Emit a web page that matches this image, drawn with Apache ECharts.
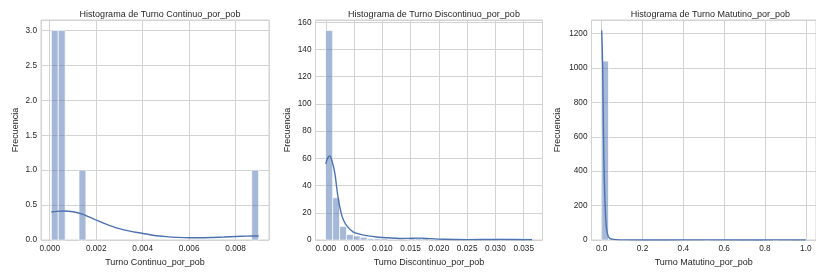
<!DOCTYPE html>
<html>
<head>
<meta charset="utf-8">
<script src="https://cdn.jsdelivr.net/npm/echarts@6/dist/echarts.min.js"></script>
<style>
html,body{margin:0;padding:0;background:#fff;}
#c{width:816px;height:275px;}
</style>
</head>
<body>
<div id="c"></div>
<script>
// ---- Data ----
const titles = ['Histograma de Turno Continuo_por_pob', 'Histograma de Turno Discontinuo_por_pob', 'Histograma de Turno Matutino_por_pob'];
const xNames = ['Turno Continuo_por_pob', 'Turno Discontinuo_por_pob', 'Turno Matutino_por_pob'];
const yName = 'Frecuencia';

// Panel 1: Turno Continuo_por_pob (30 bins)
const contRange = [0.00007, 0.00899];
const contCounts = [3,3,0,0,1,0,0,0,0,0, 0,0,0,0,0,0,0,0,0,0, 0,0,0,0,0,0,0,0,0,1];
const contKde = [[0.00007,0.40],[0.0003,0.41],[0.0006,0.415],[0.001,0.405],[0.0014,0.37],[0.0019,0.30],[0.0024,0.23],[0.0029,0.17],[0.0034,0.13],[0.0039,0.10],[0.0045,0.065],[0.005,0.048],[0.0055,0.037],[0.006,0.032],[0.0065,0.032],[0.007,0.036],[0.0075,0.042],[0.008,0.05],[0.0085,0.055],[0.00899,0.058]];

// Panel 2: Turno Discontinuo_por_pob (30 bins)
const discRange = [0.0, 0.0365];
const discCounts = [154,31,10,4,3,2,1,1,1,0, 0,0,1,1,1,0,0,0,0,0, 0,0,0,0,0,1,0,0,0,1];
const discKde = [[0,56],[0.0003,60],[0.0007,61.7],[0.0011,58],[0.0016,49],[0.0021,33],[0.0027,20],[0.0032,14],[0.0038,10],[0.0048,6],[0.006,4.3],[0.0075,3],[0.009,2.2],[0.011,1.6],[0.013,1.1],[0.0145,1.2],[0.0165,1.4],[0.0185,1.0],[0.021,0.5],[0.025,0.3],[0.03,0.35],[0.0335,0.4],[0.0365,0.2]];

// Panel 3: Turno Matutino_por_pob (30 bins)
const matRange = [0.0, 1.0];
const matCounts = [1040,8,2,1,0,0,0,0,0,0, 0,0,0,0,0,1,0,0,0,0, 0,0,0,0,0,1,0,0,0,1];
const matKde = [[0,1218],[0.0034,1084],[0.007,780],[0.01,503],[0.015,260],[0.02,116],[0.0275,39],[0.039,10],[0.068,2],[0.15,0.8],[0.3,0.3],[0.5,0.6],[0.7,0.3],[0.85,0.5],[1.0,0.3]];

// axis tick settings
const yIntervals = [0.5, 20, 200];
const xDecimals = [3, 3, 1];
const yDecimals = [1, 0, 0];
const xSplit = [5, 8, 5];

// ---- Build ----
const ranges = [contRange, discRange, matRange];
const countsAll = [contCounts, discCounts, matCounts];
const kdes = [contKde, discKde, matKde];

const BAR = 'rgba(76,114,176,0.5)';
const LINE = '#4c72b0';
const GRID = '#d3d3d3';
const TXT = '#262626';
const FONT = 'Liberation Sans, Arial, sans-serif';

const gridsPos = [
  {left: 41, top: 20, width: 228, height: 220},
  {left: 315.5, top: 20, width: 227, height: 220},
  {left: 591.5, top: 20, width: 228, height: 220}
];
const yNameGaps = [21, 23.5, 29];

function binData(range, counts){
  const w = (range[1]-range[0])/counts.length;
  const out = [];
  counts.forEach((c,i)=>{ if(c>0) out.push([range[0]+i*w, range[0]+(i+1)*w, c]); });
  return out;
}

function histItem(params, api){
  const p0 = api.coord([api.value(0), api.value(2)]);
  const p1 = api.coord([api.value(1), 0]);
  return {type:'rect', shape:{x:p0[0], y:p0[1], width:p1[0]-p0[0], height:p1[1]-p0[1]},
    style:{fill:BAR, stroke:'#ffffff', lineWidth:0.7}};
}

const grids = [], xAxes = [], yAxes = [], series = [], title = [];
for(let k=0;k<3;k++){
  const r = ranges[k];
  const span = r[1]-r[0];
  const kmax = Math.max(...kdes[k].map(p=>p[1]), ...countsAll[k]);
  grids.push(Object.assign({show:true, borderColor:GRID, borderWidth:1, containLabel:false}, gridsPos[k]));
  title.push({text:titles[k], left: gridsPos[k].left + gridsPos[k].width/2, top: 5, textAlign:'center',
    textStyle:{fontFamily:FONT, fontSize:9, fontWeight:'normal', color:TXT}});
  xAxes.push({type:'value', gridIndex:k, min: r[0]-0.05*span, max: r[1]+0.05*span, splitNumber: xSplit[k],
    name: xNames[k], nameLocation:'middle', nameGap: 18,
    nameTextStyle:{fontFamily:FONT, fontSize:9, color:TXT},
    axisLine:{show:false}, axisTick:{show:false},
    axisLabel:{showMinLabel:false, showMaxLabel:false, margin:5, fontFamily:FONT, fontSize:8.25, color:TXT,
      formatter: v => v.toFixed(xDecimals[k])},
    splitLine:{show:true, lineStyle:{color:GRID, width:1}}});
  yAxes.push({type:'value', gridIndex:k, min:0, max: kmax*1.05, interval: yIntervals[k],
    name: yName, nameLocation:'middle', nameRotate:90, nameGap: yNameGaps[k],
    nameTextStyle:{fontFamily:FONT, fontSize:9, color:TXT},
    axisLine:{show:false}, axisTick:{show:false},
    axisLabel:{showMaxLabel:false, margin:4, fontFamily:FONT, fontSize:8.25, color:TXT,
      formatter: v => v.toFixed(yDecimals[k])},
    splitLine:{show:true, lineStyle:{color:GRID, width:1}}});
  series.push({type:'custom', xAxisIndex:k, yAxisIndex:k, renderItem: histItem, data: binData(r, countsAll[k]), z:2});
  series.push({type:'line', xAxisIndex:k, yAxisIndex:k, data: kdes[k], smooth:0.3,
    symbol:'none', lineStyle:{color:LINE, width:1.4}, z:3});
}

const chart = echarts.init(document.getElementById('c'), null, {renderer:'canvas'});
chart.setOption({backgroundColor:'#ffffff', animation:false, title, grid:grids, xAxis:xAxes, yAxis:yAxes, series});
</script>
</body>
</html>
